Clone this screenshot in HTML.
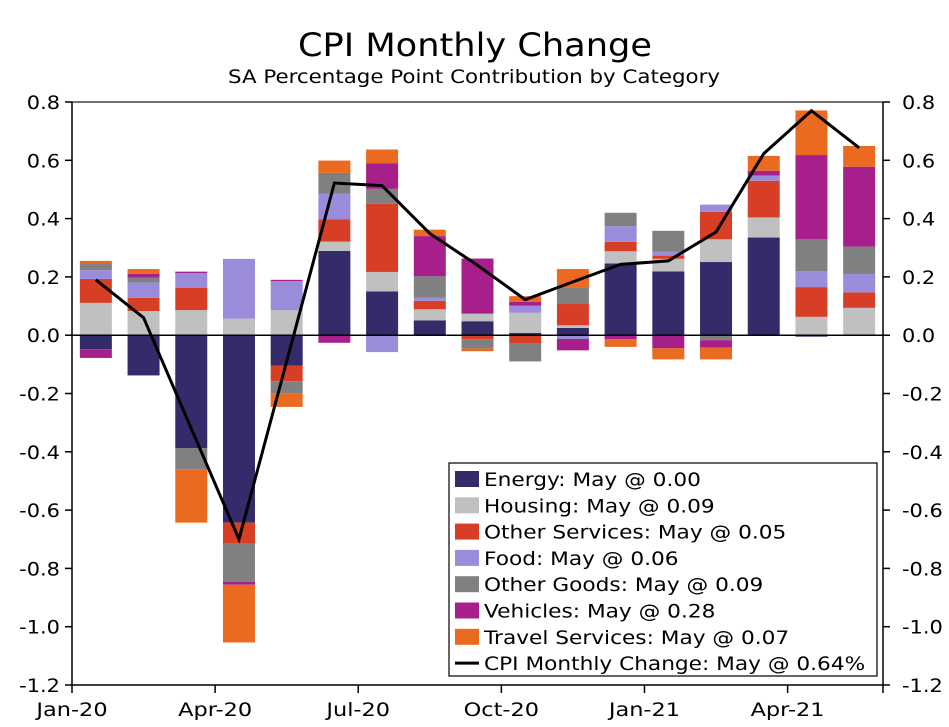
<!DOCTYPE html>
<html><head><meta charset="utf-8"><style>
body{margin:0;background:#fff;}
svg{display:block;font-family:"DejaVu Sans","Liberation Sans",sans-serif;}
</style></head><body>
<svg id="chart" width="949" height="727" viewBox="0 0 949 727" xmlns="http://www.w3.org/2000/svg">
<text x="475" y="56" font-size="32" text-anchor="middle" fill="#000" textLength="354" lengthAdjust="spacingAndGlyphs">CPI Monthly Change</text>
<text x="474" y="83" font-size="19" text-anchor="middle" fill="#000" textLength="492" lengthAdjust="spacingAndGlyphs">SA Percentage Point Contribution by Category</text>
<g id="plot"></g>
</svg>
<script>
const months = ["Jan-20","Feb-20","Mar-20","Apr-20","May-20","Jun-20","Jul-20","Aug-20","Sep-20","Oct-20","Nov-20","Dec-20","Jan-21","Feb-21","Mar-21","Apr-21","May-21"];
const energy   = [-0.048,-0.138,-0.387,-0.643,-0.105,0.289,0.150,0.051,0.048,0.008,0.025,0.246,0.219,0.251,0.335,-0.005,0.000];
const housing  = [0.111,0.083,0.086,0.057,0.086,0.032,0.067,0.038,0.026,0.069,0.009,0.042,0.043,0.078,0.069,0.063,0.094];
const otherServices = [0.082,0.045,0.077,-0.072,-0.053,0.077,0.234,0.029,-0.014,-0.029,0.073,0.032,0.011,0.094,0.126,0.102,0.053];
const food     = [0.030,0.053,0.050,0.205,0.100,0.088,-0.058,0.011,0.000,0.024,-0.013,0.054,0.013,0.025,0.018,0.055,0.063];
const otherGoods = [0.023,0.017,-0.073,-0.131,-0.041,0.071,0.051,0.073,-0.032,-0.061,0.057,0.046,0.072,-0.017,0.000,0.110,0.094];
const vehicles = [-0.030,0.013,0.005,-0.010,0.004,-0.026,0.087,0.138,0.189,0.014,-0.039,-0.014,-0.045,-0.025,0.016,0.288,0.274];
const travel   = [0.009,0.016,-0.183,-0.198,-0.047,0.042,0.048,0.022,-0.009,0.019,0.063,-0.026,-0.038,-0.041,0.051,0.153,0.071];
const cpiLine  = [0.19,0.06,-0.32,-0.70,-0.09,0.522,0.513,0.349,0.24,0.122,0.183,0.243,0.255,0.354,0.623,0.77,0.643];
const yTicks = [0.8,0.6,0.4,0.2,0.0,-0.2,-0.4,-0.6,-0.8,-1.0,-1.2];
const xTickLabels = ["Jan-20","Apr-20","Jul-20","Oct-20","Jan-21","Apr-21"];
const seriesNames = ["Energy","Housing","Other Services","Food","Other Goods","Vehicles","Travel Services"];
const seriesColors = ["#352a6a","#c0c0c0","#d63f26","#9b8bdb","#808080","#a61f8a","#ea6a1f"];
const legendLabels = ["Energy: May @ 0.00","Housing: May @ 0.09","Other Services: May @ 0.05","Food: May @ 0.06","Other Goods: May @ 0.09","Vehicles: May @ 0.28","Travel Services: May @ 0.07","CPI Monthly Change: May @ 0.64%"];

const NS="http://www.w3.org/2000/svg";
const g=document.getElementById('plot');
const X0=72,X1=883,Y0=102,Y1=685,YMAX=0.8,YMIN=-1.2;
const step=(X1-X0)/months.length;
const y=v=>Y0+(YMAX-v)/(YMAX-YMIN)*(Y1-Y0);
const xc=i=>X0+step*(i+0.5);
function mk(t,a){const e=document.createElementNS(NS,t);for(const k in a)e.setAttribute(k,a[k]);g.appendChild(e);return e;}
function widen(t,f){const w=t.getComputedTextLength();t.setAttribute('textLength',(w*f).toFixed(1));t.setAttribute('lengthAdjust','spacingAndGlyphs');}

const series=[energy,housing,otherServices,food,otherGoods,vehicles,travel];
const keys=["energy","housing","other-services","food","other-goods","vehicles","travel-services"];
months.forEach((m,i)=>{
  let pos=0,neg=0;
  series.forEach((s,k)=>{
    const v=s[i]; if(!v) return;
    let a,b;
    if(v>0){a=pos;b=pos+v;pos=b;}else{a=neg;b=neg+v;neg=b;}
    const r=mk('rect',{x:xc(i)-16,y:Math.min(y(a),y(b)),width:32,height:Math.abs(y(a)-y(b)),fill:seriesColors[k]});
    
    
  });
});
const zl=mk('line',{x1:X0,x2:X1,y1:y(0),y2:y(0),stroke:'#000','stroke-width':1.5});


const pl=mk('polyline',{points:cpiLine.map((v,i)=>xc(i)+','+y(v)).join(' '),fill:'none',stroke:'#000','stroke-width':3,'stroke-linejoin':'miter'});


const tf=mk('line',{x1:X0,x2:X1,y1:Y0,y2:Y0,stroke:'#444','stroke-width':1.5});


const la=mk('line',{x1:X0,x2:X0,y1:Y0,y2:Y1,stroke:'#000','stroke-width':1.5});


const ra=mk('line',{x1:X1,x2:X1,y1:Y0,y2:Y1,stroke:'#000','stroke-width':1.5});


const ba=mk('line',{x1:X0,x2:X1,y1:Y1,y2:Y1,stroke:'#000','stroke-width':1.5});


yTicks.forEach(v=>{
  const yy=y(v);
  mk('line',{x1:X0-7,x2:X0,y1:yy,y2:yy,stroke:'#000','stroke-width':1.5});
  mk('line',{x1:X1,x2:X1+7,y1:yy,y2:yy,stroke:'#000','stroke-width':1.5});
  const t1=mk('text',{x:X0-12,y:yy+7,'font-size':19,'text-anchor':'end'});t1.textContent=v.toFixed(1);
  
  
  widen(t1,1.1);
  const t2=mk('text',{x:X1+19,y:yy+7,'font-size':19});t2.textContent=v.toFixed(1);
  
  
  widen(t2,1.1);
});
xTickLabels.forEach((l,j)=>{
  const xx=X0+step*3*j;
  mk('line',{x1:xx,x2:xx,y1:Y1,y2:Y1+8,stroke:'#000','stroke-width':1.5});
  const t=mk('text',{x:xx,y:Y1+31,'font-size':19,'text-anchor':'middle'});t.textContent=l;
  
  
  widen(t,1.18);
});
mk('line',{x1:X1,x2:X1,y1:Y1,y2:Y1+8,stroke:'#000','stroke-width':1.5});
const lb=mk('rect',{x:449,y:463,width:428,height:213,fill:'#fff',stroke:'#000','stroke-width':1.2});


legendLabels.forEach((l,k)=>{
  const yy=479+k*26.3;
  if(k<7){mk('rect',{x:455,y:yy-8,width:24,height:16,fill:seriesColors[k]});}
  else{mk('line',{x1:455,x2:479,y1:yy,y2:yy,stroke:'#000','stroke-width':3});}
  const t=mk('text',{x:484,y:yy+7,'font-size':19});t.textContent=l;
  
  
  widen(t,1.14);
});
</script>
</body></html>
